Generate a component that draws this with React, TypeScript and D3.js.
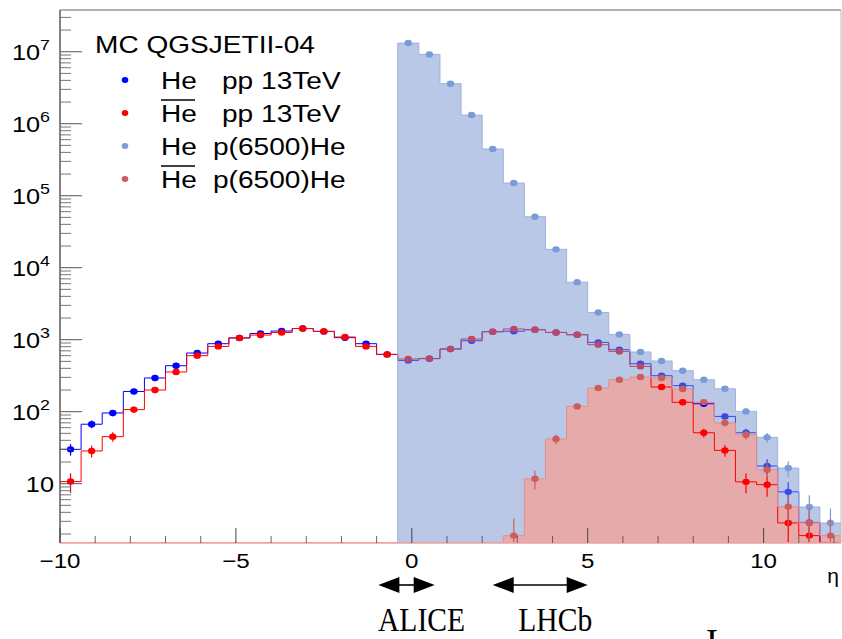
import React from 'react';
import * as d3 from 'd3';

// ---- data ----
const binLowEdges = [-10, -9.4, -8.8, -8.2, -7.6, -7, -6.4, -5.8, -5.2, -4.6, -4, -3.4, -2.8, -2.2, -1.6, -1, -0.4, 0.2, 0.8, 1.4, 2, 2.6, 3.2, 3.8, 4.4, 5, 5.6, 6.2, 6.8, 7.4, 8, 8.6, 9.2, 9.8, 10.4, 11, 11.6];
const binUpperEdge = 12.2;

const ppHe = [30, 67, 96, 191, 294, 435, 653, 880, 1057, 1220, 1320, 1430, 1304, 1067, 880, 625, 516, 545, 743, 968, 1291, 1313, 1377, 1262, 1173, 918, 726, 464, 316, 230, 129, 86, 51, 17.6, 7.7, 2.9, 0];
const ppHeBar = [10.7, 28.5, 45, 107, 200, 356, 600, 807, 1060, 1160, 1260, 1430, 1304, 1090, 807, 625, 540, 550, 743, 1023, 1291, 1409, 1377, 1262, 1173, 853, 688, 426, 220, 135, 51, 29, 10.6, 9.7, 2.85, 1.9, 0];
const pHeHe = [0, 0, 0, 0, 0, 0, 0, 0, 0, 0, 0, 0, 0, 0, 0, 0, 1.32e7, 9.18e6, 3.6e6, 1.32e6, 4.46e5, 1.5e5, 5.1e4, 1.8e4, 6.3e3, 2.39e3, 1185, 675, 506, 371, 278, 208, 101, 44, 16.5, 4.75, 2.84];
const pHeHeBar = [0, 0, 0, 0, 0, 0, 0, 0, 0, 0, 0, 0, 0, 0, 0, 0, 0, 0, 0, 0, 0, 1.9, 11.7, 41.8, 118.5, 213, 278, 303, 294, 207, 136, 70, 48, 15.6, 4.8, 2.85, 1.9];

const yDecades = [1, 2, 3, 4, 5, 6, 7];
const xMajorTicks = [-10, -5, 0, 5, 10];
const xMinorTicks = [-9, -8, -7, -6, -4, -3, -2, -1, 1, 2, 3, 4, 6, 7, 8, 9, 11, 12];
const xLabels = ['\u221210', '\u22125', '0', '5', '10'];
const xTitle = '\u03b7';

const legendTitle = 'MC QGSJETII-04';
const legendParticles = ['He', 'He', 'He', 'He'];
const legendBars = [false, true, false, true];
const legendSystems = ['pp 13TeV', 'pp 13TeV', 'p(6500)He', 'p(6500)He'];

const detectorNames = ['ALICE', 'LHCb'];
const detectorFrom = [-0.95, 2.3];
const detectorTo = [0.65, 5.0];
const croppedGlyph = 'I';

// ---- styles ----
const C_PP_HE = '#0000ff';
const C_PP_HEBAR = '#ff0000';
const C_PHE_HE = '#7b9bd6';
const C_PHE_HEBAR = '#cd5d5d';
const FONT = '"Liberation Sans", Arial, Helvetica, sans-serif';
const SERIF = '"Liberation Serif", "Times New Roman", serif';

const W = 842, H = 639;
const L = 60, R = 841, T = 10, B = 543;
const YMIN = 1.5, YMAX = 3.8e7;
const SX = 1.15;

export default function App() {
  const x = d3.scaleLinear().domain([-10, binUpperEdge]).range([L, R]);
  const y = d3.scaleLog().domain([YMIN, YMAX]).range([B, T]);
  const yv = (v: number) => y(Math.max(Math.min(v, YMAX), YMIN));

  const stepPts = (vals: number[]) => [
    ...binLowEdges.map((e, i) => [e, vals[i]]),
    [binUpperEdge, vals[vals.length - 1]],
  ];
  const line = d3.line<number[]>().x(d => x(d[0])).y(d => yv(d[1])).curve(d3.curveStepAfter);
  const area = d3.area<number[]>().x(d => x(d[0])).y0(B).y1(d => yv(d[1])).curve(d3.curveStepAfter);
  const centers = binLowEdges.map((e, i) => (e + (i + 1 < binLowEdges.length ? binLowEdges[i + 1] : binUpperEdge)) / 2);

  const points = (vals: number[], color: string, key: string) =>
    vals.map((v, i) => {
      if (!(v >= YMIN)) return null;
      const e = Math.sqrt(v);
      const cx = x(centers[i]);
      return (
        <g key={key + i}>
          <line x1={cx} x2={cx} y1={yv(v + e)} y2={yv(v - e)} stroke={color} strokeWidth={1.2} />
          <ellipse cx={cx} cy={yv(v)} rx={3.7} ry={3.2} fill={color} />
        </g>
      );
    });

  const ppLayer = (key: string) => (
    <g key={key}>
      <path d={line(stepPts(ppHe)) || ''} fill="none" stroke={C_PP_HE} strokeWidth={1} />
      {points(ppHe, C_PP_HE, key + 'b')}
      <path d={line(stepPts(ppHeBar)) || ''} fill="none" stroke={C_PP_HEBAR} strokeWidth={1} />
      {points(ppHeBar, C_PP_HEBAR, key + 'r')}
    </g>
  );

  const redArea = area(stepPts(pHeHeBar)) || '';
  const blueArea = area(stepPts(pHeHe)) || '';

  // y ticks
  const yMinor: number[] = [];
  for (let d = 0; d <= 7; d++) for (let m = 2; m <= 9; m++) {
    const v = m * Math.pow(10, d);
    if (v >= YMIN && v <= YMAX) yMinor.push(v);
  }

  const legendY = [80, 113, 146, 179];
  const legendColors = [C_PP_HE, C_PP_HEBAR, C_PHE_HE, C_PHE_HEBAR];

  return (
    <svg width={W} height={H} style={{ position: 'fixed', left: 0, top: 0, background: '#fff' }} fontFamily={FONT}>
      <defs>
        <clipPath id="redClip"><path d={redArea} /></clipPath>
        <clipPath id="plotClip"><rect x={L} y={T} width={R - L} height={B - T} /></clipPath>
      </defs>
      <rect x={0} y={0} width={W} height={H} fill="#fff" />

      <g clipPath="url(#plotClip)">
        {ppLayer('pp1')}
        {/* p(6500)He fill, semi-transparent */}
        <path d={blueArea} fill="#7391cd" fillOpacity={0.5} stroke="none" />
        <path d={line(stepPts(pHeHe)) || ''} fill="none" stroke="#9db2df" strokeWidth={1} />
        {/* anti-He p(6500)He fill */}
        <path d={redArea} fill="#e6aaaa" stroke="none" />
        <g clipPath="url(#redClip)">{ppLayer('pp2')}</g>
        <path d={line(stepPts(pHeHeBar)) || ''} fill="none" stroke="#e48f8f" strokeWidth={1} />
        {points(pHeHe, C_PHE_HE, 'phb')}
        {points(pHeHeBar, C_PHE_HEBAR, 'phr')}
      </g>

      {/* frame */}
      <line x1={L} x2={R} y1={T} y2={T} stroke="#999" strokeWidth={1.3} />
      <line x1={R} x2={R} y1={T} y2={B} stroke="#bbb" strokeWidth={1} />
      <line x1={L} x2={L} y1={T} y2={B} stroke="#333" strokeWidth={1.2} />
      <line x1={L} x2={R} y1={B} y2={B} stroke="#f0a0a0" strokeWidth={1.3} />

      {/* y ticks */}
      {yDecades.map(d => (
        <line key={'ym' + d} x1={L} x2={L + 22} y1={y(Math.pow(10, d))} y2={y(Math.pow(10, d))} stroke="#555" strokeWidth={1} />
      ))}
      {yMinor.map(v => (
        <line key={'yn' + v} x1={L} x2={L + 11} y1={y(v)} y2={y(v)} stroke="#666" strokeWidth={0.9} />
      ))}
      {yDecades.map(d => (
        <g key={'yl' + d} transform={`translate(${d === 1 ? 54 : 50},${y(Math.pow(10, d)) + 8}) scale(${SX},1)`}>
          <text textAnchor="end" fontSize={22} fill="#000">
            10{d > 1 ? <tspan dy={-10} fontSize={15.5}>{d}</tspan> : null}
          </text>
        </g>
      ))}

      {/* x ticks */}
      {xMajorTicks.map(t => (
        <line key={'xm' + t} x1={x(t)} x2={x(t)} y1={B} y2={B - 15} stroke="#444" strokeWidth={1} />
      ))}
      {xMinorTicks.map(t => (
        <line key={'xn' + t} x1={x(t)} x2={x(t)} y1={B} y2={B - 7} stroke="#555" strokeWidth={0.9} />
      ))}
      {xMajorTicks.map((t, i) => (
        <g key={'xl' + t} transform={`translate(${x(t)},568) scale(${SX},1)`}>
          <text textAnchor="middle" fontSize={21} fill="#000">{xLabels[i]}</text>
        </g>
      ))}
      <text x={833} y={583} textAnchor="middle" fontSize={21} fill="#000">{xTitle}</text>

      {/* legend */}
      <g transform={`translate(95,53) scale(1.17,1)`}>
        <text fontSize={24} fill="#000">{legendTitle}</text>
      </g>
      {legendSystems.map((s, i) => (
        <g key={'lg' + i}>
          <ellipse cx={125} cy={legendY[i]} rx={3.3} ry={2.9} fill={legendColors[i]} />
          <g transform={`translate(161,${legendY[i] + 8.5}) scale(1.17,1)`}>
            <text fontSize={24} fill="#000">{legendParticles[i]}</text>
          </g>
          {legendBars[i] ? <line x1={161} x2={195} y1={legendY[i] - 13} y2={legendY[i] - 13} stroke="#000" strokeWidth={1.3} /> : null}
          <g transform={`translate(${i < 2 ? 222 : 213},${legendY[i] + 8.5}) scale(1.17,1)`}>
            <text fontSize={24} fill="#000">{s}</text>
          </g>
        </g>
      ))}

      {/* detector acceptance arrows */}
      {detectorNames.map((n, i) => {
        const x1 = x(detectorFrom[i]);
        const x2 = x(detectorTo[i]);
        const ay = 585, hl = 21, hw = 8;
        const mid = (x1 + x2) / 2;
        return (
          <g key={'det' + n}>
            <line x1={x1 + hl - 1} x2={x2 - hl + 1} y1={ay} y2={ay} stroke="#000" strokeWidth={1.6} />
            <polygon points={`${x1},${ay} ${x1 + hl},${ay - hw} ${x1 + hl},${ay + hw}`} fill="#000" />
            <polygon points={`${x2},${ay} ${x2 - hl},${ay - hw} ${x2 - hl},${ay + hw}`} fill="#000" />
            <g transform={`translate(${mid + 15},631) scale(0.87,1)`}>
              <text textAnchor="middle" fontFamily={SERIF} fontSize={34} fill="#000">{n}</text>
            </g>
          </g>
        );
      })}
      <text x={712} y={655} textAnchor="middle" fontFamily={SERIF} fontSize={37} fill="#000">{croppedGlyph}</text>
    </svg>
  );
}
